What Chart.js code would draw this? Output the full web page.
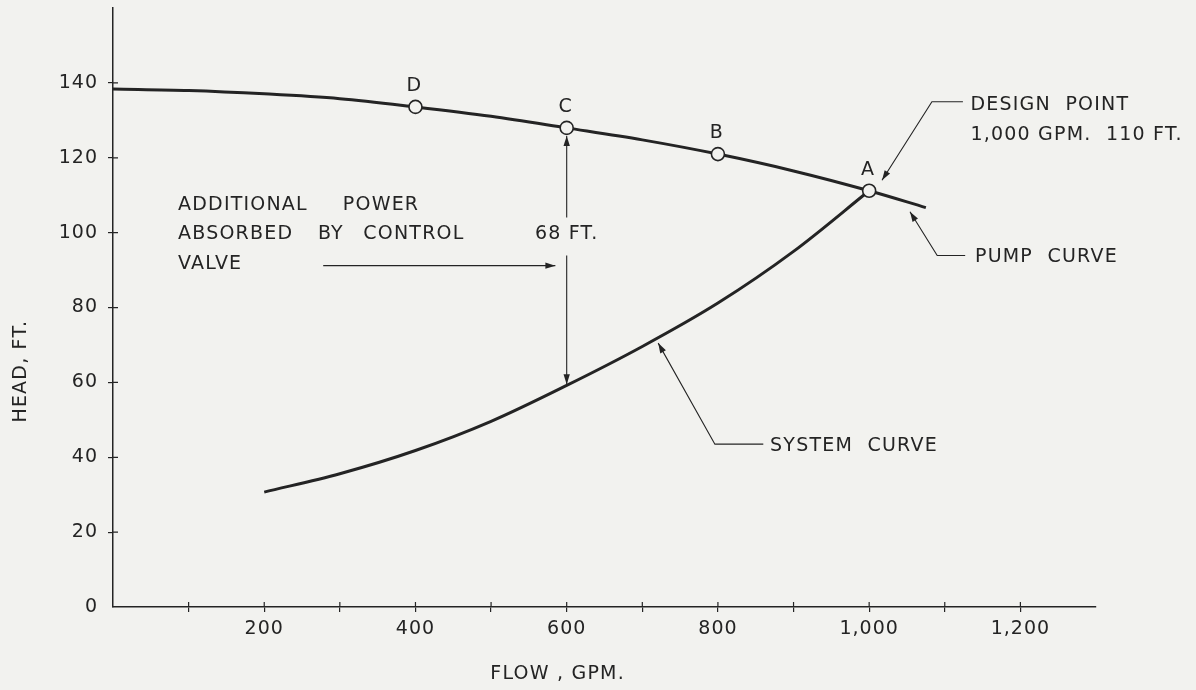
<!DOCTYPE html>
<html>
<head>
<meta charset="utf-8">
<script src="https://cdn.jsdelivr.net/npm/chart.js@4.4.1/dist/chart.umd.min.js"></script>
<style>
  html, body { margin: 0; padding: 0; background: #f2f2ef; }
  canvas { display: block; }
</style>
</head>
<body>
<canvas id="graphCanvas" width="1196" height="690"></canvas>
<script>
// values
const pumpFlow = [0, 100, 200, 300, 400, 500, 600, 700, 800, 900, 1000, 1075];
const pumpHead = [138.4, 138, 137.1, 135.8, 133.6, 131.1, 128, 124.8, 121, 116.5, 111.2, 106.7];
const systemFlow = [200, 300, 400, 500, 600, 700, 800, 900, 1000];
const systemHead = [30.7, 35.6, 41.8, 49.6, 59.2, 69.6, 81.2, 95, 111.2];
const pointNames = ['D', 'C', 'B', 'A'];
const pointFlow = [400, 600, 800, 1000];
const pointHead = [133.6, 128, 121, 111.2];
const flowTicks = [200, 400, 600, 800, 1000, 1200];
const headTicks = [0, 20, 40, 60, 80, 100, 120, 140];

const ink = '#242424';
const paper = '#f2f2ef';
const textFont = '19px "DejaVu Sans"';

function arrowHead(ctx, x0, y0, x1, y1, len = 10, half = 3.2) {
    const a = Math.atan2(y1 - y0, x1 - x0);
    const c = Math.cos(a), s = Math.sin(a);
    ctx.beginPath();
    ctx.moveTo(x1, y1);
    ctx.lineTo(x1 - len * c + half * s, y1 - len * s - half * c);
    ctx.lineTo(x1 - len * c - half * s, y1 - len * s + half * c);
    ctx.closePath();
    ctx.fill();
}

// polyline with an arrow on its last point
function leader(ctx, pts) {
    ctx.beginPath();
    ctx.moveTo(pts[0][0], pts[0][1]);
    for (let i = 1; i < pts.length; i++) ctx.lineTo(pts[i][0], pts[i][1]);
    ctx.stroke();
    const n = pts.length;
    arrowHead(ctx, pts[n - 2][0], pts[n - 2][1], pts[n - 1][0], pts[n - 1][1]);
}

const paperBg = {
    id: 'paperBg',
    beforeDraw(chart) {
        const ctx = chart.ctx;
        ctx.save();
        ctx.fillStyle = paper;
        ctx.fillRect(0, 0, chart.width, chart.height);
        ctx.restore();
        ctx.letterSpacing = '1px';
    }
};

const notes = {
    id: 'notes',
    afterDraw(chart) {
        const { ctx, scales: { x, y } } = chart;
        const X = v => x.getPixelForValue(v);
        const Y = v => y.getPixelForValue(v);
        ctx.save();
        ctx.fillStyle = ink;
        ctx.strokeStyle = ink;

        // tick marks crossing into the plot
        ctx.lineWidth = 1.2;
        ctx.beginPath();
        for (let v = 100; v <= 1200; v += 100) { ctx.moveTo(X(v), Y(0)); ctx.lineTo(X(v), Y(0) - 5); }
        headTicks.forEach(v => { if (v > 0) { ctx.moveTo(X(0), Y(v)); ctx.lineTo(X(0) + 5, Y(v)); } });
        ctx.stroke();

        ctx.font = textFont;
        ctx.letterSpacing = '1.2px';
        ctx.textBaseline = 'middle';

        // operating point letters
        ctx.textAlign = 'center';
        pointNames.forEach((n, i) => ctx.fillText(n, X(pointFlow[i]) - 1, Y(pointHead[i]) - 21));

        // control valve note
        ctx.textAlign = 'left';
        ctx.fillText('ADDITIONAL', X(86), Y(107.5));
        ctx.fillText('POWER', X(304), Y(107.5));
        ctx.fillText('ABSORBED', X(86), Y(99.5));
        ctx.fillText('BY', X(271), Y(99.5));
        ctx.fillText('CONTROL', X(331), Y(99.5));
        ctx.fillText('VALVE', X(86), Y(91.5));
        ctx.lineWidth = 1.1;
        leader(ctx, [[X(278), Y(91.2)], [X(585), Y(91.2)]]);

        // 68 ft between curves at 600 gpm
        ctx.textAlign = 'center';
        ctx.fillText('68 FT.', X(600), Y(99.5));
        leader(ctx, [[X(600), Y(99.5) - 17], [X(600), Y(128) + 8]]);
        leader(ctx, [[X(600), Y(99.5) + 21], [X(600), Y(59.5)]]);

        // design point
        ctx.textAlign = 'left';
        ctx.fillText('DESIGN  POINT', X(1134), Y(134.2));
        ctx.fillText('1,000 GPM.  110 FT.', X(1134), Y(126.1));
        leader(ctx, [[X(1124), Y(135)], [X(1083), Y(135)], [X(1017), Y(114)]]);

        // pump curve
        ctx.fillText('PUMP  CURVE', X(1140), Y(93.6));
        leader(ctx, [[X(1127), Y(93.9)], [X(1090), Y(93.9)], [X(1054), Y(105.6)]]);

        // system curve
        ctx.fillText('SYSTEM  CURVE', X(869), Y(42.9));
        leader(ctx, [[X(860), Y(43.5)], [X(796), Y(43.5)], [X(721), Y(70.5)]]);

        // axis titles
        ctx.textAlign = 'center';
        ctx.fillText('FLOW , GPM.', X(588), Y(-18));
        ctx.translate(X(-122), Y(63));
        ctx.rotate(-Math.PI / 2);
        ctx.fillText('HEAD, FT.', 0, 0);
        ctx.restore();
    }
};

const context = document.getElementById('graphCanvas').getContext('2d');
const chart = new Chart(context, {
    type: 'scatter',
    data: {
        datasets: [
            {
                data: pointFlow.map((f, i) => ({ x: f, y: pointHead[i] })),
                pointRadius: 6.5,
                pointBorderWidth: 1.6,
                pointBackgroundColor: paper,
                pointBorderColor: ink,
                showLine: false,
                order: 0
            },
            {
                data: pumpFlow.map((f, i) => ({ x: f, y: pumpHead[i] })),
                showLine: true,
                borderColor: ink,
                borderWidth: 3,
                pointRadius: 0,
                cubicInterpolationMode: 'monotone',
                order: 1
            },
            {
                data: systemFlow.map((f, i) => ({ x: f, y: systemHead[i] })),
                showLine: true,
                borderColor: ink,
                borderWidth: 3,
                pointRadius: 0,
                cubicInterpolationMode: 'monotone',
                order: 1
            }
        ]
    },
    options: {
        responsive: false,
        animation: false,
        events: [],
        layout: { padding: { top: 7, right: 100, left: 0, bottom: 0 } },
        plugins: { legend: { display: false }, tooltip: { enabled: false } },
        scales: {
            x: {
                type: 'linear',
                min: 0,
                max: 1300,
                afterFit: s => { s.height = 83; s.paddingLeft = 0; s.paddingRight = 0; },
                border: { color: ink, width: 1.5 },
                grid: {
                    drawOnChartArea: false,
                    tickLength: 5,
                    lineWidth: 1.2,
                    tickColor: c => (c.tick && c.tick.value > 0 && c.tick.value <= 1200) ? ink : 'rgba(0,0,0,0)'
                },
                ticks: {
                    stepSize: 100,
                    autoSkip: false,
                    maxRotation: 0,
                    padding: 6,
                    color: ink,
                    font: { family: 'DejaVu Sans', size: 19 },
                    callback: v => flowTicks.includes(v) ? v.toLocaleString('en-US') : ''
                }
            },
            y: {
                type: 'linear',
                min: 0,
                max: 160,
                afterFit: s => { s.width = 113; s.paddingTop = 0; s.paddingBottom = 0; },
                border: { color: ink, width: 1.5 },
                grid: {
                    drawOnChartArea: false,
                    tickLength: 5,
                    lineWidth: 1.2,
                    tickColor: c => (c.tick && headTicks.includes(c.tick.value) && c.tick.value > 0) ? ink : 'rgba(0,0,0,0)'
                },
                ticks: {
                    stepSize: 20,
                    autoSkip: false,
                    padding: 10,
                    color: ink,
                    font: { family: 'DejaVu Sans', size: 19 },
                    callback: v => headTicks.includes(v) ? String(v) : ''
                }
            }
        }
    },
    plugins: [paperBg, notes]
});
</script>
</body>
</html>
